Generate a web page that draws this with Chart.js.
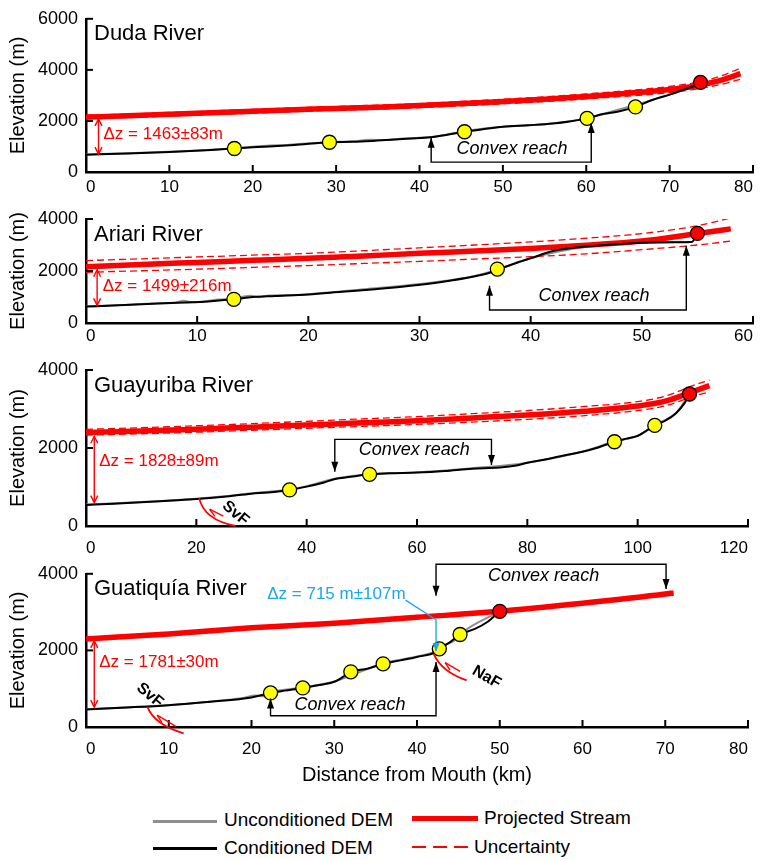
<!DOCTYPE html>
<html lang="en">
<head>
<meta charset="UTF-8">
<title>River long profiles</title>
<script src="https://cdn.jsdelivr.net/npm/chart.js@4"></script>
<style>
  body { margin:0; width:760px; height:860px; position:relative; background:#fff; overflow:hidden;
         font-family:"Liberation Sans", Arial, sans-serif; }
  canvas { position:absolute; left:0; }
  .key { position:absolute; font-size:19px; line-height:22px; color:#000; white-space:nowrap; }
  .sw { position:absolute; }
</style>
</head>
<body>
<canvas id="duda" width="760" height="200" style="top:0px;width:760px;height:200px"></canvas>
<canvas id="ariari" width="760" height="150" style="top:200px;width:760px;height:150px"></canvas>
<canvas id="guayuriba" width="760" height="205" style="top:350px;width:760px;height:205px"></canvas>
<canvas id="guatiquia" width="760" height="245" style="top:555px;width:760px;height:245px"></canvas>

<div class="sw" style="left:153px;top:820px;width:64px;height:3px;background:#8f8f8f"></div>
<div class="key" style="left:224px;top:809px">Unconditioned DEM</div>
<div class="sw" style="left:153px;top:847px;width:64px;height:3px;background:#000"></div>
<div class="key" style="left:224px;top:837px">Conditioned DEM</div>
<div class="sw" style="left:412px;top:816px;width:66px;height:5px;background:#ff0000"></div>
<div class="key" style="left:484px;top:807px">Projected Stream</div>
<div class="sw" style="left:412px;top:846px;width:56px;height:1.5px;background:repeating-linear-gradient(90deg,#ff0000 0 14px,transparent 14px 21px)"></div>
<div class="key" style="left:474px;top:836px">Uncertainty</div>

<script>
const FONT = '"Liberation Sans", Arial, sans-serif';
Chart.defaults.font.family = FONT;
Chart.defaults.color = '#000';

// ---- Duda River ----
const dudaXTicks = [0, 10, 20, 30, 40, 50, 60, 70, 80];
const dudaYTicks = [0, 2000, 4000, 6000];
const dudaGrayX = [0, 5, 10, 15, 18, 20, 22, 24, 26, 28, 30, 32, 34, 36, 38, 40, 42, 45, 50, 55, 60, 65, 70, 73.7];
const dudaGrayY = [690, 730, 790, 870, 940, 990, 1040, 1060, 1110, 1140, 1180, 1200, 1260, 1250, 1310, 1340, 1390, 1580, 1770, 1870, 2100, 2550, 3030, 3470];
const dudaDemX = [0, 5, 10, 15, 17.8, 20, 25, 29.2, 32, 35, 38, 41, 43, 45.4, 48, 50, 53, 56, 58, 60.1, 62, 64, 65.9, 68, 70, 72, 73.7];
const dudaDemY = [680, 720, 780, 860, 920, 965, 1060, 1165, 1180, 1230, 1290, 1350, 1440, 1577, 1690, 1770, 1830, 1900, 1980, 2100, 2270, 2380, 2550, 2830, 3030, 3260, 3470];
const dudaProjX = [0, 5, 10, 15, 20, 25, 30, 35, 40, 45, 50, 55, 60, 65, 70, 73, 76, 78.5];
const dudaProjY = [2150, 2200, 2260, 2320, 2380, 2440, 2490, 2540, 2600, 2680, 2760, 2850, 2960, 3080, 3230, 3370, 3580, 3850];
const dudaUpY = [2220, 2270, 2330, 2390, 2455, 2515, 2565, 2620, 2680, 2765, 2850, 2945, 3060, 3190, 3350, 3500, 3740, 4070];
const dudaLoY = [2080, 2130, 2190, 2250, 2305, 2365, 2415, 2460, 2520, 2595, 2670, 2755, 2860, 2970, 3110, 3240, 3420, 3630];
const dudaKnickX = [17.8, 29.2, 45.4, 60.1, 65.9];
const dudaKnickY = [920, 1165, 1577, 2100, 2550];
const dudaTopX = [73.7];
const dudaTopY = [3510];

// ---- Ariari River ----
const ariariXTicks = [0, 10, 20, 30, 40, 50, 60];
const ariariYTicks = [0, 2000, 4000];
const ariariGrayX = [0, 3, 6, 8, 8.8, 9.5, 10.5, 12, 13.3, 14, 14.8, 15.5, 16.5, 18, 20, 25, 30, 35, 37, 40, 45, 50, 54.5];
const ariariGrayY = [640, 690, 750, 780, 860, 800, 830, 900, 940, 1000, 1050, 990, 1060, 1070, 1110, 1300, 1500, 1810, 2050, 2490, 2935, 3090, 3120];
const ariariDemX = [0, 3, 6, 9, 11, 13.3, 15, 17, 20, 23, 26, 29, 32, 35, 36.3, 37, 38.5, 40, 42, 44, 47, 50, 53, 54.5, 55];
const ariariDemY = [630, 680, 740, 790, 830, 910, 1000, 1040, 1100, 1200, 1300, 1420, 1580, 1800, 1930, 2050, 2280, 2490, 2770, 2900, 3010, 3090, 3110, 3120, 3450];
const ariariProjX = [0, 5, 10, 15, 20, 25, 30, 35, 40, 45, 50, 55, 58];
const ariariProjY = [2165, 2250, 2330, 2410, 2490, 2580, 2680, 2770, 2870, 2990, 3150, 3440, 3620];
const ariariUpY = [2400, 2470, 2540, 2610, 2680, 2780, 2890, 3000, 3120, 3260, 3440, 3740, 4040];
const ariariLoY = [1950, 2010, 2070, 2140, 2210, 2290, 2370, 2460, 2550, 2660, 2820, 3000, 3150];
const ariariKnickX = [13.3, 37];
const ariariKnickY = [910, 2075];
const ariariTopX = [55];
const ariariTopY = [3450];

// ---- Guayuriba River ----
const guayXTicks = [0, 20, 40, 60, 80, 100, 120];
const guayYTicks = [0, 2000, 4000];
const guayGrayX = [0, 10, 20, 25, 30, 36.9, 40, 45, 51.4, 60, 70, 80, 90, 95.8, 100, 103.1, 107, 109.4];
const guayGrayY = [550, 615, 700, 760, 840, 935, 1020, 1210, 1330, 1375, 1480, 1625, 1910, 2165, 2315, 2585, 2905, 3385];
const guayDemX = [0, 5, 10, 15, 20, 25, 30, 33, 36.9, 40, 43, 45, 48, 51.4, 55, 60, 65, 70, 75, 78, 80, 83, 86, 90, 93, 95.8, 98, 100, 103.1, 105, 107, 108.5, 109.4];
const guayDemY = [540, 570, 610, 650, 690, 750, 830, 860, 925, 1010, 1110, 1200, 1260, 1325, 1350, 1370, 1410, 1470, 1500, 1550, 1620, 1700, 1790, 1905, 2020, 2160, 2240, 2310, 2580, 2700, 2900, 3150, 3385];
const guayProjX = [0, 10, 20, 30, 40, 50, 60, 70, 80, 90, 100, 105, 110, 113];
const guayProjY = [2395, 2435, 2480, 2535, 2590, 2645, 2700, 2770, 2845, 2940, 3075, 3200, 3445, 3600];
const guayUpY = [2480, 2520, 2570, 2625, 2685, 2745, 2805, 2880, 2960, 3060, 3190, 3330, 3600, 3740];
const guayLoY = [2330, 2365, 2405, 2455, 2505, 2555, 2605, 2665, 2735, 2825, 2960, 3080, 3320, 3440];
const guayKnickX = [36.9, 51.4, 95.8, 103.1];
const guayKnickY = [925, 1325, 2160, 2580];
const guayTopX = [109.4];
const guayTopY = [3385];

// ---- Guatiquia River ----
const guatXTicks = [0, 10, 20, 30, 40, 50, 60, 70, 80];
const guatYTicks = [0, 2000, 4000];
const guatGrayX = [0, 10, 19, 20.5, 21.5, 22.3, 26.2, 30, 35.9, 40, 42.3, 43.5, 44.5, 45.2, 50];
const guatGrayY = [465, 575, 760, 820, 800, 900, 1030, 1190, 1660, 1840, 1980, 2160, 2250, 2420, 3020];
const guatDemX = [0, 5, 10, 15, 20, 22.3, 24, 26.2, 28, 30, 31, 32, 34, 35.9, 38, 40, 42.3, 42.7, 44, 45.2, 47, 48.5, 50];
const guatDemY = [460, 510, 570, 660, 770, 890, 950, 1020, 1090, 1180, 1300, 1440, 1520, 1650, 1740, 1830, 1960, 2040, 2215, 2415, 2560, 2740, 3020];
const guatProjX = [0, 10, 20, 30, 40, 50, 60, 70, 71];
const guatProjY = [2300, 2430, 2590, 2710, 2865, 3020, 3230, 3470, 3500];
const guatUpY = [2330, 2460, 2620, 2740, 2895, 3050, 3260, 3500, 3530];
const guatLoY = [2270, 2400, 2560, 2680, 2835, 2990, 3200, 3440, 3470];
const guatKnickX = [22.3, 26.2, 32, 35.9, 42.7, 45.2];
const guatKnickY = [890, 1020, 1440, 1650, 2040, 2415];
const guatTopX = [50];
const guatTopY = [3020];

function pts(xs, ys) { return xs.map((x, i) => ({x: x, y: ys[i]})); }

function head(ctx, x0, y0, x1, y1, len, w, fill) {
    const a = Math.atan2(y1 - y0, x1 - x0);
    const bx = x1 - len * Math.cos(a), by = y1 - len * Math.sin(a);
    const px = -Math.sin(a) * w, py = Math.cos(a) * w;
    ctx.beginPath();
    ctx.moveTo(bx + px, by + py);
    ctx.lineTo(x1, y1);
    ctx.lineTo(bx - px, by - py);
    if (fill) { ctx.closePath(); ctx.fill(); } else { ctx.stroke(); }
}

// ticks pointing into the plot, like the original figure
const inTicks = {
    id: 'inTicks',
    afterDraw(chart) {
        const {ctx, chartArea: a, scales: {x, y}} = chart;
        ctx.save();
        ctx.strokeStyle = '#000';
        ctx.lineWidth = 2;
        x.ticks.forEach(t => {
            const px = x.getPixelForValue(t.value);
            ctx.beginPath(); ctx.moveTo(px, a.bottom); ctx.lineTo(px, a.bottom - 7); ctx.stroke();
        });
        y.ticks.forEach(t => {
            const py = y.getPixelForValue(t.value);
            ctx.beginPath(); ctx.moveTo(a.left, py); ctx.lineTo(a.left + 7, py); ctx.stroke();
        });
        ctx.restore();
    }
};

function notesPlugin(n) {
    return {
        id: 'notes',
        afterDraw(chart) {
            const {ctx, chartArea: a, scales: {x, y}} = chart;
            const X = v => x.getPixelForValue(v), Y = v => y.getPixelForValue(v);
            ctx.save();
            // river name
            ctx.font = '22px ' + FONT;
            ctx.fillStyle = '#000';
            ctx.textAlign = 'left';
            ctx.textBaseline = 'alphabetic';
            ctx.fillText(n.title, 94, a.top + 21.5);

            // relief difference arrow
            const dz = n.dz;
            ctx.strokeStyle = '#ff0000';
            ctx.fillStyle = '#ff0000';
            ctx.lineWidth = 1.4;
            ctx.beginPath(); ctx.moveTo(X(dz.x), Y(dz.y1)); ctx.lineTo(X(dz.x), Y(dz.y2)); ctx.stroke();
            head(ctx, X(dz.x), Y(dz.y2), X(dz.x), Y(dz.y1), 7, 3.5, false);
            head(ctx, X(dz.x), Y(dz.y1), X(dz.x), Y(dz.y2), 7, 3.5, false);
            ctx.font = '17px ' + FONT;
            ctx.textBaseline = 'middle';
            ctx.fillText(dz.text, X(dz.tx), Y(dz.ty));

            // convex reach brackets
            ctx.strokeStyle = '#000';
            ctx.fillStyle = '#000';
            ctx.lineWidth = 1.4;
            n.brackets.forEach(b => {
                ctx.beginPath();
                ctx.moveTo(X(b.x1), Y(b.tip1));
                ctx.lineTo(X(b.x1), Y(b.bar));
                ctx.lineTo(X(b.x2), Y(b.bar));
                ctx.lineTo(X(b.x2), Y(b.tip2));
                ctx.stroke();
                head(ctx, X(b.x1), Y(b.bar), X(b.x1), Y(b.tip1), 10, 3.5, true);
                head(ctx, X(b.x2), Y(b.bar), X(b.x2), Y(b.tip2), 10, 3.5, true);
                ctx.font = 'italic 18px ' + FONT;
                ctx.textAlign = 'center';
                ctx.textBaseline = 'middle';
                ctx.fillText('Convex reach', X(b.lx), Y(b.ly));
            });

            // faults
            (n.faults || []).forEach(f => {
                ctx.strokeStyle = '#ff0000';
                ctx.lineWidth = 1.8;
                ctx.beginPath();
                ctx.moveTo(X(f.curve[0][0]), Y(f.curve[0][1]));
                ctx.quadraticCurveTo(X(f.curve[1][0]), Y(f.curve[1][1]), X(f.curve[2][0]), Y(f.curve[2][1]));
                ctx.stroke();
                const x0 = X(f.arrow[0][0]), y0 = Y(f.arrow[0][1]);
                const x1 = X(f.arrow[1][0]), y1 = Y(f.arrow[1][1]);
                ctx.lineWidth = 1.4;
                ctx.beginPath(); ctx.moveTo(x0, y0); ctx.lineTo(x1, y1); ctx.stroke();
                const ang = Math.atan2(y1 - y0, x1 - x0);
                ctx.beginPath();
                ctx.moveTo(x1, y1);
                ctx.lineTo(x1 - 8 * Math.cos(ang) + 4 * Math.sin(ang), y1 - 8 * Math.sin(ang) - 4 * Math.cos(ang));
                ctx.stroke();
                ctx.save();
                ctx.translate(X(f.lx), Y(f.ly));
                ctx.rotate(f.rot * Math.PI / 180);
                ctx.font = 'bold 16px ' + FONT;
                ctx.fillStyle = '#000';
                ctx.textAlign = 'center';
                ctx.textBaseline = 'middle';
                ctx.fillText(f.label, 0, 0);
                ctx.restore();
            });

            // second relief difference (blue)
            if (n.cyan) {
                const c = n.cyan;
                ctx.font = '17px ' + FONT;
                ctx.fillStyle = '#1aa7ec';
                ctx.strokeStyle = '#1aa7ec';
                ctx.textAlign = 'left';
                ctx.textBaseline = 'middle';
                ctx.fillText(c.text, X(c.tx), Y(c.ty));
                const w = ctx.measureText(c.text).width;
                ctx.lineWidth = 1.4;
                ctx.beginPath();
                ctx.moveTo(X(c.tx) + w, Y(c.ty) + 6);
                c.path.forEach(p => ctx.lineTo(X(p[0]), Y(p[1])));
                ctx.stroke();
                const p1 = c.path[c.path.length - 2], p2 = c.path[c.path.length - 1];
                head(ctx, X(p1[0]), Y(p1[1]), X(p2[0]), Y(p2[1]), 8, 3.5, true);
            }
            ctx.restore();
        }
    };
}

function makePanel(id, d) {
    const line = (label, xs, ys, color, width, order, dash) => ({
        label: label, data: pts(xs, ys), borderColor: color, borderWidth: width,
        borderDash: dash || [], pointRadius: 0, fill: false, order: order,
        cubicInterpolationMode: 'monotone'
    });
    const dots = (label, xs, ys, color, order) => ({
        label: label, data: pts(xs, ys), showLine: false, pointRadius: 7,
        pointBackgroundColor: color, pointBorderColor: '#000', pointBorderWidth: 1.3, order: order
    });
    const xMax = d.xTicks[d.xTicks.length - 1];
    const yMax = d.yTicks[d.yTicks.length - 1];
    new Chart(document.getElementById(id), {
        type: 'line',
        data: {
            datasets: [
                line('Unconditioned DEM', d.grayX, d.grayY, '#8f8f8f', 2, 6),
                line('Conditioned DEM', d.demX, d.demY, '#000000', 2, 2),
                line('Uncertainty', d.projX, d.upY, '#ff0000', 1.3, 3, [7, 4]),
                line('Uncertainty', d.projX, d.loY, '#ff0000', 1.3, 3, [7, 4]),
                line('Projected Stream', d.projX, d.projY, '#ff0000', 5.5, 4),
                dots('Knickpoints', d.knickX, d.knickY, '#ffff00', 1),
                dots('Top knickpoint', d.topX, d.topY, '#ff0000', 0)
            ]
        },
        options: {
            responsive: false,
            animation: false,
            events: [],
            layout: {autoPadding: false, padding: {top: d.padTop, right: 7, bottom: 0, left: 0}},
            plugins: {legend: {display: false}, tooltip: {enabled: false}},
            scales: {
                x: {
                    type: 'linear', min: 0, max: xMax,
                    afterBuildTicks: s => { s.ticks = d.xTicks.map(v => ({value: v})); },
                    afterFit: s => { s.height = d.xHeight; },
                    grid: {drawOnChartArea: false, drawTicks: false},
                    border: {color: '#000', width: 2.5},
                    ticks: {align: 'inner', padding: d.tickPad, color: '#000', font: {size: 17},
                            maxRotation: 0, autoSkip: false, callback: v => String(v)},
                    title: d.xTitle
                        ? {display: true, text: d.xTitle, color: '#000', font: {size: 20}, padding: {top: 0, bottom: 13}}
                        : {display: false}
                },
                y: {
                    type: 'linear', min: 0, max: yMax,
                    afterBuildTicks: s => { s.ticks = d.yTicks.map(v => ({value: v})); },
                    afterFit: s => { s.width = 86; },
                    grid: {drawOnChartArea: false, drawTicks: false},
                    border: {color: '#000', width: 2.5},
                    ticks: {padding: 8, color: '#000', font: {size: 18}, autoSkip: false, callback: v => String(v)},
                    title: {display: true, text: 'Elevation (m)', color: '#000', font: {size: 20}, padding: {top: 6, bottom: 0}}
                }
            }
        },
        plugins: [inTicks, notesPlugin(d.notes)]
    });
}

makePanel('duda', {
    xTicks: dudaXTicks, yTicks: dudaYTicks, padTop: 16, xHeight: 28, tickPad: 5,
    grayX: dudaGrayX, grayY: dudaGrayY, demX: dudaDemX, demY: dudaDemY,
    projX: dudaProjX, projY: dudaProjY, upY: dudaUpY, loY: dudaLoY,
    knickX: dudaKnickX, knickY: dudaKnickY, topX: dudaTopX, topY: dudaTopY,
    notes: {
        title: 'Duda River',
        dz: {x: 1.5, y1: 700, y2: 2080, text: 'Δz = 1463±83m', tx: 2.1, ty: 1460},
        brackets: [{x1: 41.4, x2: 60.6, bar: 385, tip1: 1340, tip2: 1920, lx: 51.1, ly: 885}]
    }
});

makePanel('ariari', {
    xTicks: ariariXTicks, yTicks: ariariYTicks, padTop: 19, xHeight: 27, tickPad: 3,
    grayX: ariariGrayX, grayY: ariariGrayY, demX: ariariDemX, demY: ariariDemY,
    projX: ariariProjX, projY: ariariProjY, upY: ariariUpY, loY: ariariLoY,
    knickX: ariariKnickX, knickY: ariariKnickY, topX: ariariTopX, topY: ariariTopY,
    notes: {
        title: 'Ariari River',
        dz: {x: 1.0, y1: 680, y2: 2050, text: 'Δz = 1499±216m', tx: 1.5, ty: 1420},
        brackets: [{x1: 36.3, x2: 54.0, bar: 500, tip1: 1435, tip2: 2975, lx: 45.7, ly: 1040}]
    }
});

makePanel('guayuriba', {
    xTicks: guayXTicks, yTicks: guayYTicks, padTop: 20, xHeight: 29, tickPad: 12,
    grayX: guayGrayX, grayY: guayGrayY, demX: guayDemX, demY: guayDemY,
    projX: guayProjX, projY: guayProjY, upY: guayUpY, loY: guayLoY,
    knickX: guayKnickX, knickY: guayKnickY, topX: guayTopX, topY: guayTopY,
    notes: {
        title: 'Guayuriba River',
        dz: {x: 1.5, y1: 600, y2: 2300, text: 'Δz = 1828±89m', tx: 2.4, ty: 1650},
        brackets: [{x1: 45.1, x2: 73.5, bar: 2220, tip1: 1390, tip2: 1565, lx: 59.5, ly: 1950}],
        faults: [{curve: [[20.5, 720], [21.4, 155], [27.1, 0]], arrow: [[24.9, 256], [22.4, 430]],
                  label: 'SvF', lx: 27.1, ly: 325, rot: 40}]
    }
});

makePanel('guatiquia', {
    xTicks: guatXTicks, yTicks: guatYTicks, padTop: 18, xHeight: 73, tickPad: 12,
    xTitle: 'Distance from Mouth (km)',
    grayX: guatGrayX, grayY: guatGrayY, demX: guatDemX, demY: guatDemY,
    projX: guatProjX, projY: guatProjY, upY: guatUpY, loY: guatLoY,
    knickX: guatKnickX, knickY: guatKnickY, topX: guatTopX, topY: guatTopY,
    notes: {
        title: 'Guatiquía River',
        dz: {x: 1.0, y1: 520, y2: 2250, text: 'Δz = 1781±30m', tx: 1.6, ty: 1700},
        brackets: [
            {x1: 42.3, x2: 70.1, bar: 4250, tip1: 3430, tip2: 3600, lx: 55.3, ly: 3950},
            {x1: 22.3, x2: 42.3, bar: 295, tip1: 745, tip2: 1700, lx: 31.9, ly: 570}
        ],
        faults: [
            {curve: [[7.4, 530], [8.3, 50], [11.8, -165]], arrow: [[10.9, 10], [8.6, 310]],
             label: 'SvF', lx: 7.7, ly: 830, rot: 40},
            {curve: [[42.0, 1915], [43.0, 1430], [46.0, 1220]], arrow: [[45.2, 1455], [43.4, 1680]],
             label: 'NaF', lx: 48.4, ly: 1300, rot: 30}
        ],
        cyan: {text: 'Δz = 715 m±107m', tx: 21.9, ty: 3470, path: [[42.3, 2800], [42.3, 1980]]}
    }
});
</script>
</body>
</html>
